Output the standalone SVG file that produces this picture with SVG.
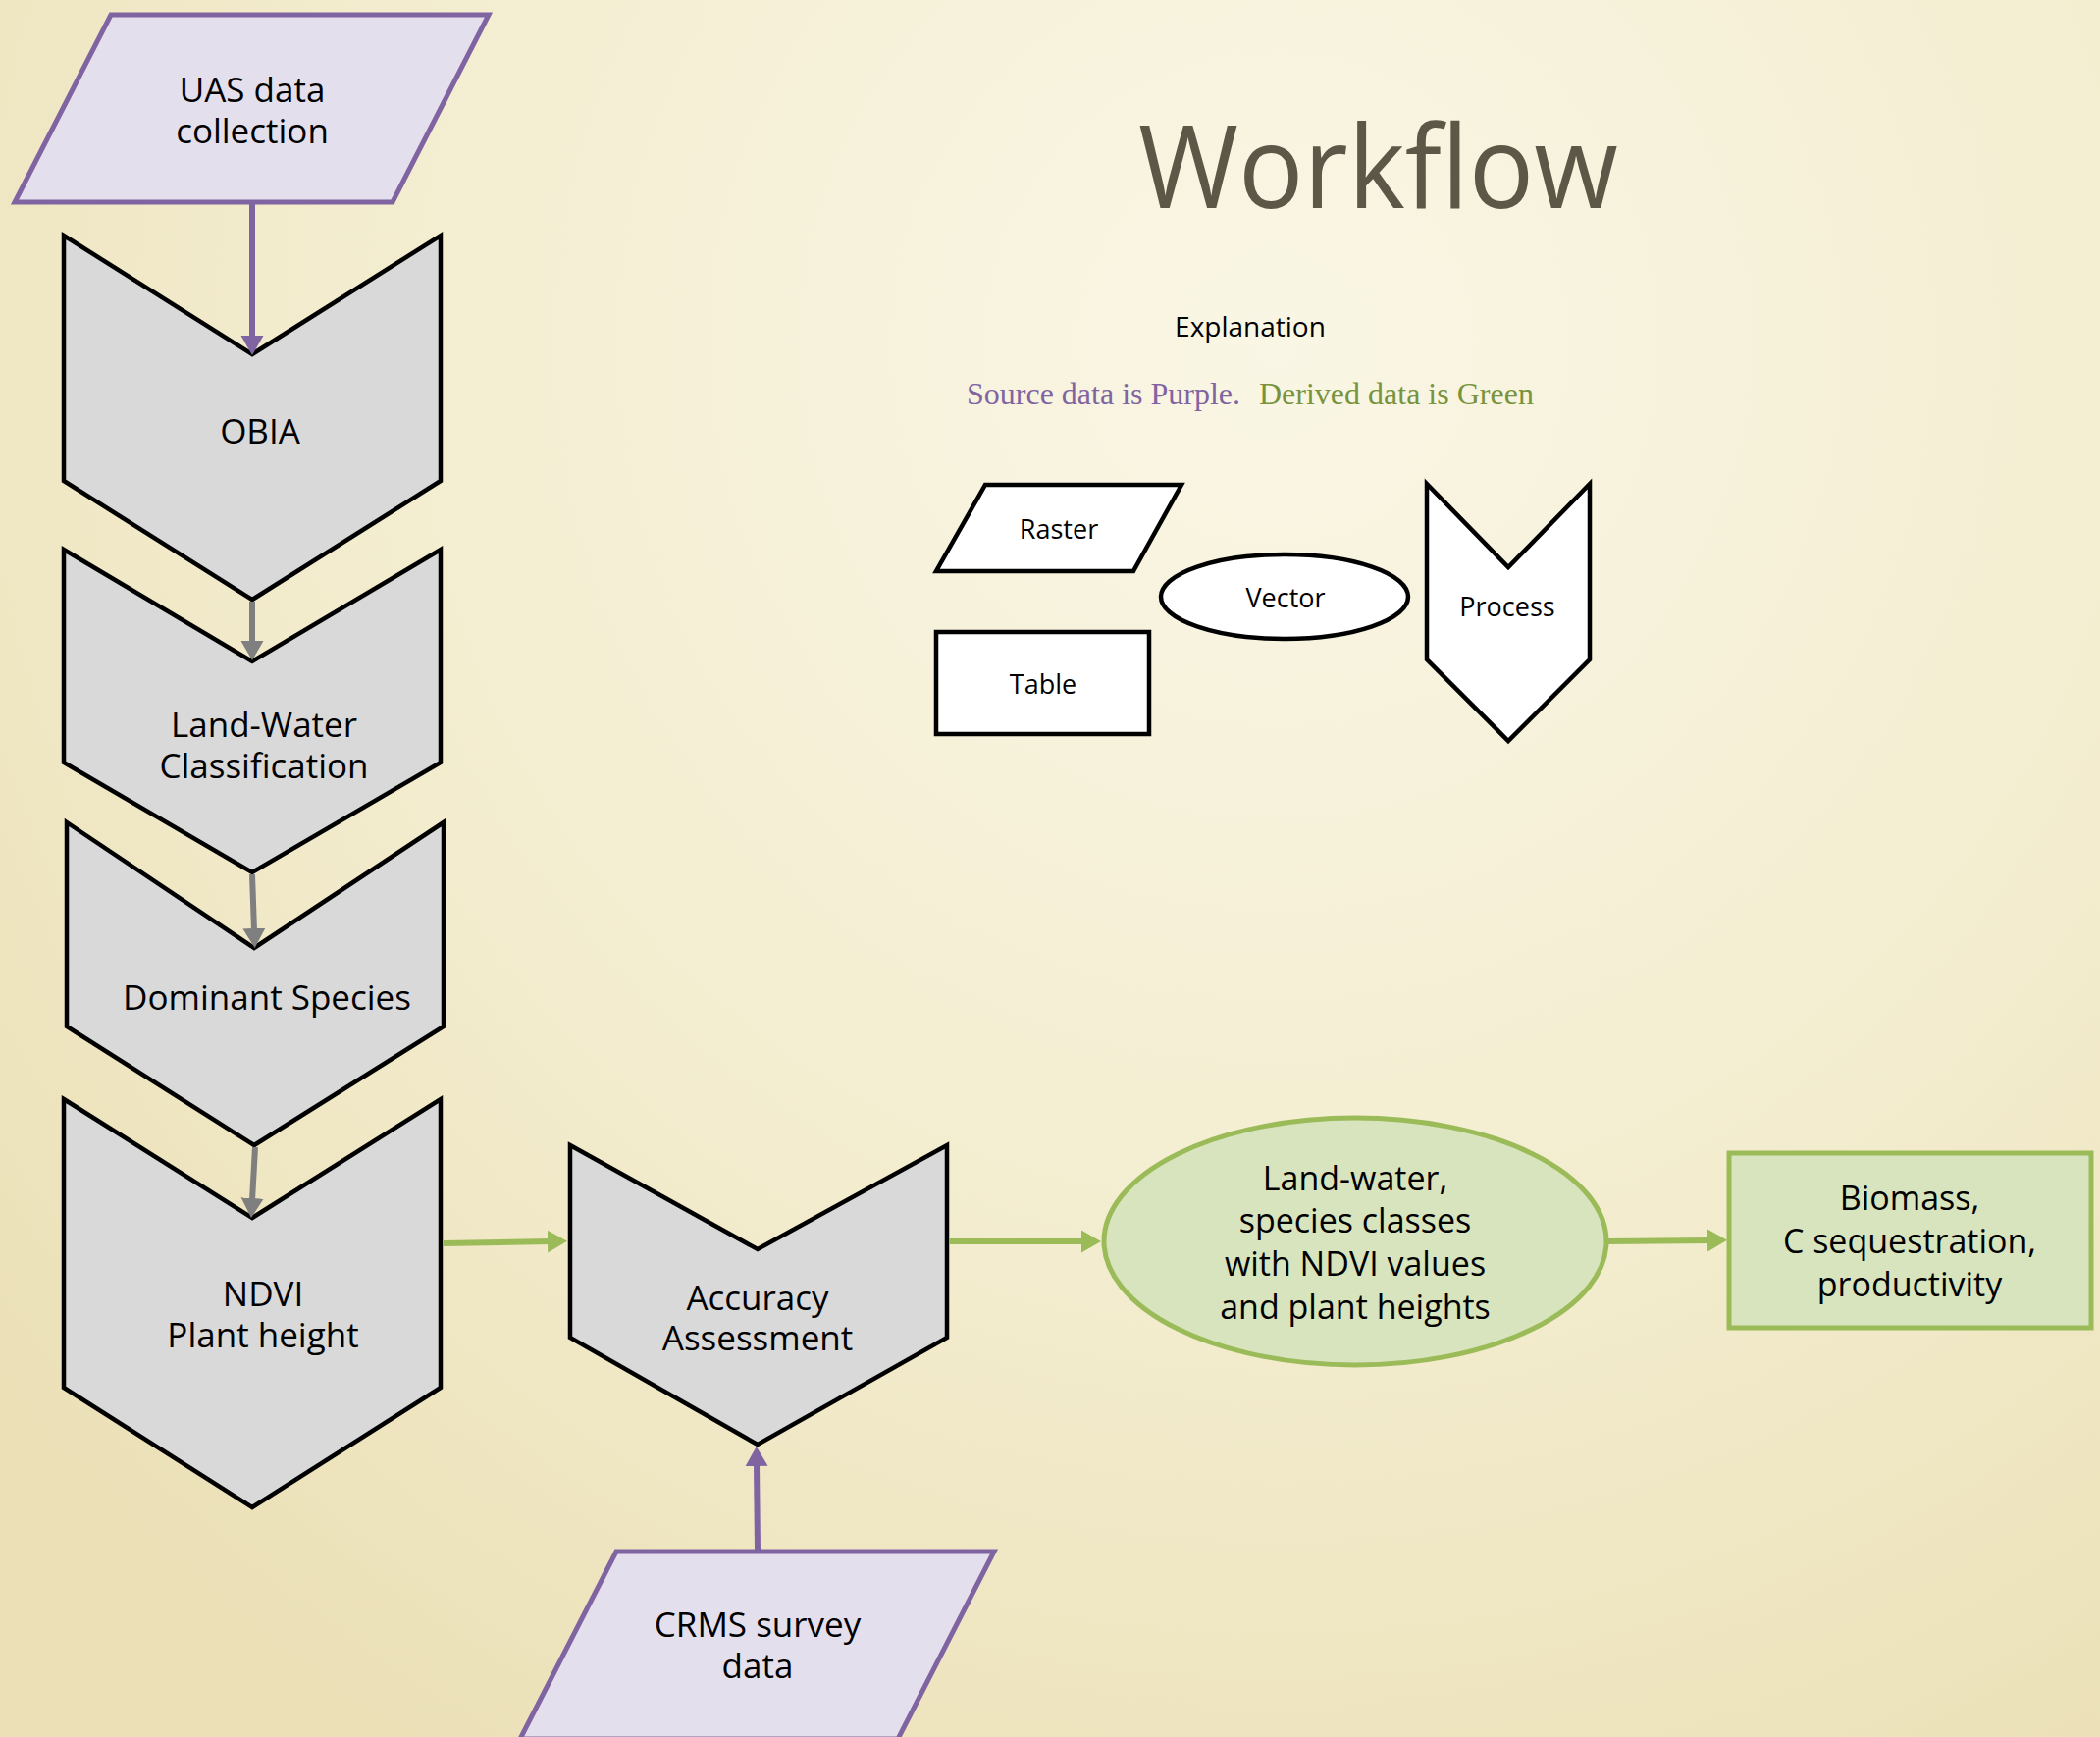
<svg xmlns="http://www.w3.org/2000/svg" width="2140" height="1770" viewBox="0 0 2140 1770">
<defs>
<radialGradient id="bg" cx="1300" cy="350" r="1700" gradientUnits="userSpaceOnUse">
<stop offset="0" stop-color="#faf6e5"/>
<stop offset="0.5" stop-color="#f4eed2"/>
<stop offset="1" stop-color="#ebe0b6"/>
</radialGradient>
<marker id="mP" markerUnits="userSpaceOnUse" markerWidth="22" markerHeight="24" refX="2" refY="12" orient="auto" viewBox="0 0 22 24"><path d="M0,0.5 L20,12 L0,23.5 z" fill="#8064a2"/></marker>
<marker id="mG" markerUnits="userSpaceOnUse" markerWidth="22" markerHeight="24" refX="2" refY="12" orient="auto" viewBox="0 0 22 24"><path d="M0,0.5 L20,12 L0,23.5 z" fill="#7f7f7f"/></marker>
<marker id="mN" markerUnits="userSpaceOnUse" markerWidth="22" markerHeight="24" refX="2" refY="12" orient="auto" viewBox="0 0 22 24"><path d="M0,0.5 L20,12 L0,23.5 z" fill="#9bbb59"/></marker>
</defs>
<style>
.t{font-family:"Open Sans","DejaVu Sans",sans-serif;fill:#000;text-anchor:middle}
.big{font-size:35px}
.grn{font-size:34px}
.lg{font-size:27px}
.proc{fill:#d9d9d9;stroke:#000;stroke-width:4.5;stroke-linejoin:miter}
.src{fill:#e4dfec;stroke:#8064a2;stroke-width:5}
.der{fill:#d7e4bd;stroke:#9bbb59;stroke-width:5}
.leg{fill:#fff;stroke:#000;stroke-width:4.5}
.cP{stroke:#8064a2;stroke-width:6;fill:none}
.cG{stroke:#7f7f7f;stroke-width:6;fill:none}
.cN{stroke:#9bbb59;stroke-width:6;fill:none}
</style>
<rect x="0" y="0" width="2140" height="1770" fill="url(#bg)"/>

<text x="1160" y="212" font-family="Open Sans, DejaVu Sans, sans-serif" font-size="118" fill="#5c5747" textLength="489" lengthAdjust="spacingAndGlyphs">Workflow</text>
<text x="1274" y="343" class="t" style="font-size:28px">Explanation</text>
<text x="985" y="412" font-family="Liberation Serif, serif" font-size="32"><tspan fill="#8064a2">Source data is Purple.</tspan><tspan x="1283" fill="#77933c">Derived data is Green</tspan></text>

<g id="legend-raster"><polygon class="leg" points="1004,494 1204,494 1155,582 954,582"/><text class="t lg" x="1079" y="549">Raster</text></g>
<g id="legend-vector"><ellipse class="leg" cx="1309" cy="608" rx="126" ry="43"/><text class="t lg" x="1310" y="619">Vector</text></g>
<g id="legend-table"><rect class="leg" x="954" y="644" width="217" height="104"/><text class="t lg" x="1063" y="707">Table</text></g>
<g id="legend-process"><polygon class="leg" points="1454,493 1537,578 1620,493 1620,672 1537,755 1454,672"/><text class="t lg" x="1536" y="628">Process</text></g>

<g id="uas"><polygon class="src" points="113,15 498,15 400,206 15,206"/><text class="t big"><tspan x="257" y="104">UAS data</tspan><tspan x="257" y="146">collection</tspan></text></g>
<g id="obia"><polygon class="proc" points="65,240 257,361 449,240 449,490 257,611 65,490"/><text class="t big" x="265" y="452">OBIA</text></g>
<g id="landwater"><polygon class="proc" points="65,560 257,674 449,560 449,777 257,889 65,777"/><text class="t big"><tspan x="269" y="751">Land-Water</tspan><tspan x="269" y="793">Classification</tspan></text></g>
<g id="dominant"><polygon class="proc" points="68,838 259,966 452,838 452,1046 259,1167 68,1046"/><text class="t big" x="272" y="1029">Dominant Species</text></g>
<g id="ndvi"><polygon class="proc" points="65,1120 257,1241 449,1120 449,1414 257,1536 65,1414"/><text class="t big"><tspan x="268" y="1331">NDVI</tspan><tspan x="268" y="1373">Plant height</tspan></text></g>
<g id="accuracy"><polygon class="proc" points="581,1167 772,1273 965,1167 965,1363 772,1472 581,1363"/><text class="t big"><tspan x="772" y="1335">Accuracy</tspan><tspan x="772" y="1376">Assessment</tspan></text></g>
<g id="crms"><polygon class="src" points="628,1581 1013,1581 915,1772 530,1772"/><text class="t big"><tspan x="772" y="1668">CRMS survey</tspan><tspan x="772" y="1710">data</tspan></text></g>
<g id="landwater-classes"><ellipse class="der" cx="1381" cy="1265" rx="256" ry="126"/>
<text class="t grn"><tspan x="1381" y="1213">Land-water,</tspan><tspan x="1381" y="1256">species classes</tspan><tspan x="1381" y="1300">with NDVI values</tspan><tspan x="1381" y="1344">and plant heights</tspan></text></g>
<g id="biomass"><rect class="der" x="1762" y="1175" width="369" height="178"/>
<text class="t grn"><tspan x="1946" y="1233">Biomass,</tspan><tspan x="1946" y="1277">C sequestration,</tspan><tspan x="1946" y="1321">productivity</tspan></text></g>

<g id="connectors">
<line class="cP" x1="257" y1="207" x2="257" y2="344" marker-end="url(#mP)"/>
<line class="cG" x1="257" y1="613" x2="257" y2="655" marker-end="url(#mG)"/>
<line class="cG" x1="257" y1="891" x2="259" y2="948" marker-end="url(#mG)"/>
<line class="cG" x1="260" y1="1169" x2="257" y2="1223" marker-end="url(#mG)"/>
<line class="cN" x1="452" y1="1267" x2="560" y2="1265" marker-end="url(#mN)"/>
<line class="cP" x1="772" y1="1579" x2="771" y2="1492" marker-end="url(#mP)"/>
<line class="cN" x1="967" y1="1265" x2="1104" y2="1265" marker-end="url(#mN)"/>
<line class="cN" x1="1638" y1="1265" x2="1742" y2="1264" marker-end="url(#mN)"/>
</g>
</svg>
